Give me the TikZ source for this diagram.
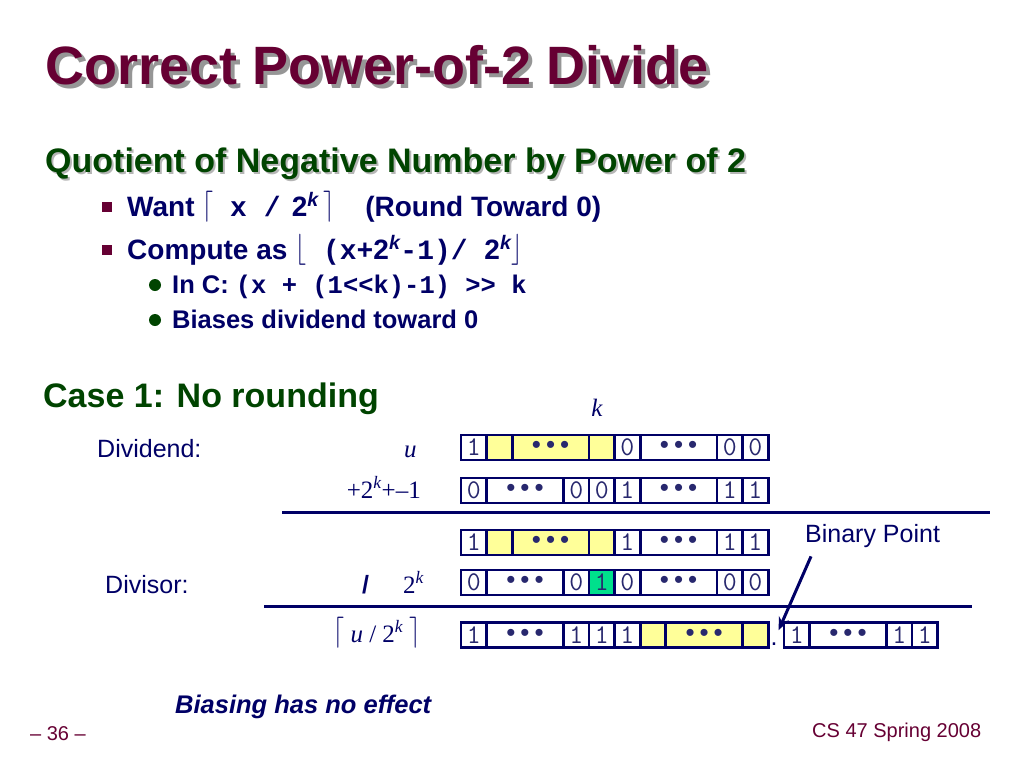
\documentclass[tikz,border=0pt]{standalone}
\usepackage{fontspec}
\setmainfont{Liberation Sans}
\newfontfamily\codefont{Liberation Mono}
\newfontfamily\timesfont{Liberation Serif}
\usepackage{tikz}
\usetikzlibrary{positioning, arrows.meta}

\definecolor{titlered}{RGB}{102,0,51}
\definecolor{headgreen}{RGB}{0,68,0}
\definecolor{navy}{RGB}{0,0,102}
\definecolor{digit}{RGB}{40,40,110}
\definecolor{yel}{RGB}{255,255,153}
\definecolor{mint}{RGB}{0,224,140}
\definecolor{shade}{RGB}{150,150,150}

\newcommand{\code}[1]{{\codefont #1}}
\newcommand{\brk}[1]{\raisebox{2pt}{\scalebox{1}[1.25]{$#1$}}}
\newcommand{\bdots}{{\rmfamily\fontsize{26}{26}\selectfont\textbullet\hspace{5pt}\textbullet\hspace{5pt}\textbullet}}
% one row of bit cells: name, x, y, {width/text/fill,...}
\newcommand{\bitrow}[4]{%
  \foreach \w/\t/\c [count=\i] in {#4}{
    \ifnum\i=1
      \node[cell, minimum width=\w*25.6pt, fill=\c, anchor=west] (#1-\i) at (#2,#3) {\t};
    \else
      \pgfmathtruncatemacro\j{\i-1}
      \node[cell, minimum width=\w*25.6pt, fill=\c, right=0pt of #1-\j] (#1-\i) {\t};
    \fi
  }%
}

\begin{document}
\begin{tikzpicture}[x=1pt, y=-1pt,
        titletext/.style={anchor=base west, inner sep=0pt, font=\fontsize{54}{60}\selectfont\bfseries},
        headtext/.style={anchor=base west, inner sep=0pt, font=\fontsize{34}{38}\selectfont\bfseries},
        itemtext/.style={anchor=base west, inner sep=0pt, text=navy, font=\fontsize{28}{32}\selectfont\bfseries},
        subtext/.style={anchor=base west, inner sep=0pt, text=navy, font=\fontsize{25.5}{30}\selectfont\bfseries},
        labeltext/.style={anchor=base west, inner sep=0pt, text=navy, font=\fontsize{25}{30}\selectfont},
        mathtext/.style={anchor=base west, inner sep=0pt, text=navy, font=\timesfont\fontsize{25}{30}\selectfont},
        foot/.style={anchor=base west, inner sep=0pt, text=titlered, font=\fontsize{20}{24}\selectfont},
        cell/.style={draw=navy, line width=2.8pt, outer sep=0pt, inner sep=0pt, minimum height=25pt, text=digit, font=\ttfamily\fontsize{27}{27}\selectfont},
        rule/.style={draw=navy, line width=3pt},
        arrow/.style={draw=navy, line width=3pt, -{Stealth[length=13pt, width=11pt]}}
    ]
        \useasboundingbox (0,0) rectangle (1024,768);

        % ===== Title =====
        \node (titleshadow) [titletext, text=shade] at (49,88) {Correct Power-of-2 Divide};
        \node (title) [titletext, text=titlered] at (45,84) {Correct Power-of-2 Divide};

        % ===== Bullets =====
        \node (headshadow) [headtext, text=shade!70] at (47,174) {Quotient of Negative Number by Power of 2};
        \node (head) [headtext, text=headgreen] at (45,172) {Quotient of Negative Number by Power of 2};
        \node (sq1) [fill=titlered, minimum size=10pt, inner sep=0pt] at (107,207) {};
        \node (want) [itemtext] at (127,216) {Want\;\brk{\lceil}\code{\ x\ /}\hspace{0.4em}2\textsuperscript{\itshape k}\,\brk{\rceil}\hspace{1.1em}(Round Toward 0)};
        \node (sq2) [fill=titlered, minimum size=10pt, inner sep=0pt] at (107,250) {};
        \node (compute) [itemtext] at (127,259) {Compute as\;\brk{\lfloor}\code{\ (x+}2\textsuperscript{\itshape k}\code{-1)/\ }2\textsuperscript{\itshape k}\brk{\rfloor}};
        \node (dot1) [circle, fill=headgreen, minimum size=12pt, inner sep=0pt] at (155,285) {};
        \node (inc) [subtext] at (172,293) {In C: \code{(x + (1<<k)-1) >> k}};
        \node (dot2) [circle, fill=headgreen, minimum size=12pt, inner sep=0pt] at (155,320) {};
        \node (biases) [subtext] at (172,328) {Biases dividend toward 0};

        % ===== Case 1 =====
        \node (case) [headtext, text=headgreen] at (43,407) {Case 1: No rounding};
        \node (kmark) [mathtext, anchor=base] at (597,416) {\itshape k};

        \node (dividend) [labeltext] at (97,457) {Dividend:};
        \node (u) [mathtext] at (404,457) {\itshape u};
        \node (bias) [mathtext, anchor=base east] at (421,498) {+2\textsuperscript{\itshape k}+–1};
        \node (divisor) [labeltext] at (105,593) {Divisor:};
        \node (slash) [labeltext, font=\fontsize{25}{30}\selectfont\bfseries] at (362,593) {/};
        \node (twok) [mathtext] at (403,593) {2\textsuperscript{\itshape k}};
        \node (quot) [mathtext] at (333,642) {\brk{\lceil}\ \itshape u\upshape\ / 2\textsuperscript{\itshape k}\ \brk{\rceil}};

        \bitrow{r1}{461}{447.5}{1/1/white, 1//yel, 3/\bdots/yel, 1//yel, 1/0/white, 3/\bdots/white, 1/0/white, 1/0/white}
        \bitrow{r2}{461}{490.5}{1/0/white, 3/\bdots/white, 1/0/white, 1/0/white, 1/1/white, 3/\bdots/white, 1/1/white, 1/1/white}
        \bitrow{r3}{461}{542.5}{1/1/white, 1//yel, 3/\bdots/yel, 1//yel, 1/1/white, 3/\bdots/white, 1/1/white, 1/1/white}
        \bitrow{r4}{461}{582.5}{1/0/white, 3/\bdots/white, 1/0/white, 1/1/mint, 1/0/white, 3/\bdots/white, 1/0/white, 1/0/white}
        \bitrow{r5}{461}{635}{1/1/white, 3/\bdots/white, 1/1/white, 1/1/white, 1/1/white, 1//yel, 3/\bdots/yel, 1//yel}
        \bitrow{r6}{784}{635}{1/1/white, 3/\bdots/white, 1/1/white, 1/1/white}
        \node (pt) [labeltext, anchor=base] at (774,645) {.};

        % sum and quotient rules
        \draw [rule] (282,512) -- (990,512);
        \draw [rule] (264,606) -- (972,606);

        % binary point
        \node (bp) [labeltext] at (805,542) {Binary Point};
        \coordinate (bptail) at ([shift={(6,9)}]bp.south west);
        \coordinate (bptip) at ([shift={(1,-12)}]pt.north east);
        \draw [arrow] (bptail) -- (bptip);

        \node (note) [subtext, font=\fontsize{25.5}{30}\selectfont\bfseries\itshape] at (175,713) {Biasing has no effect};

        % ===== Footer =====
        \node (page) [foot] at (30,740) {-- 36 --};
        \node (course) [foot] at (812,737) {CS 47 Spring 2008};

    \end{tikzpicture}
\end{document}
